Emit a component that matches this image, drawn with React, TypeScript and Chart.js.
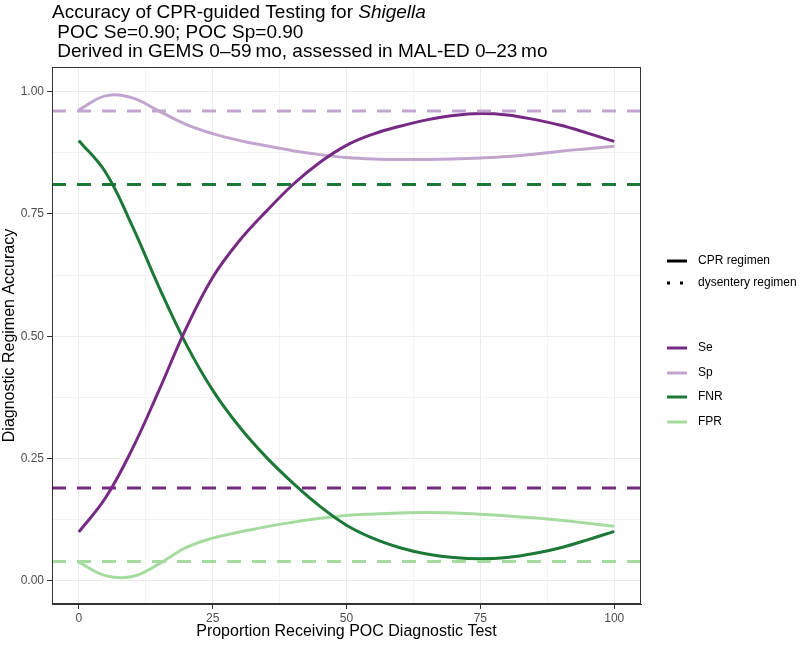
import React, { useEffect, useRef } from "react";
import { Chart, registerables } from "chart.js";

Chart.register(...registerables);

const xs = [0, 5, 10, 15, 20, 25, 30, 35, 40, 45, 50, 55, 60, 65, 70, 75, 80, 85, 90, 95, 100];
const seCPR = [0.10, 0.17, 0.27, 0.39, 0.515, 0.62, 0.695, 0.755, 0.81, 0.855, 0.89, 0.913, 0.929, 0.942, 0.951, 0.955, 0.952, 0.943, 0.931, 0.915, 0.898];
const spCPR = [0.962, 0.991, 0.987, 0.96, 0.933, 0.914, 0.9, 0.889, 0.879, 0.871, 0.865, 0.862, 0.861, 0.861, 0.862, 0.864, 0.867, 0.872, 0.878, 0.883, 0.888];
const fnrCPR = [0.90, 0.835, 0.725, 0.60, 0.485, 0.39, 0.315, 0.253, 0.2, 0.153, 0.114, 0.087, 0.068, 0.055, 0.048, 0.0455, 0.048, 0.056, 0.068, 0.084, 0.1015];
const fprCPR = [0.0385, 0.011, 0.009, 0.035, 0.068, 0.0875, 0.1, 0.111, 0.12, 0.128, 0.134, 0.137, 0.139, 0.14, 0.139, 0.1365, 0.133, 0.129, 0.124, 0.118, 0.112];

// dysentery regimen (constant)
const dysSe = 0.19;
const dysSp = 0.96;
const dysFNR = 0.81;
const dysFPR = 0.04;

const seriesNames = ["Se", "Sp", "FNR", "FPR"];
const seriesColors = ["#762a83", "#c2a5cf", "#1b7837", "#a6dba0"];

const xTicks = [0, 12.5, 25, 37.5, 50, 62.5, 75, 87.5, 100];
const yTicks = [0, 0.125, 0.25, 0.375, 0.5, 0.625, 0.75, 0.875, 1];

const FONT = '"Liberation Sans", Arial, Helvetica, sans-serif';

const toPts = (arr: number[]) => arr.map((y, i) => ({ x: xs[i], y }));
const hline = (v: number) => [{ x: -5, y: v }, { x: 105, y: v }];

export default function App() {
  const ref = useRef<HTMLCanvasElement | null>(null);

  useEffect(() => {
    if (!ref.current) return;
    const curves = [seCPR, spCPR, fnrCPR, fprCPR];
    const dys = [dysSe, dysSp, dysFNR, dysFPR];

    const datasets: any[] = [];
    dys.forEach((v, i) => {
      datasets.push({
        label: seriesNames[i] + " dysentery",
        data: hline(v),
        borderColor: seriesColors[i],
        borderWidth: 3,
        borderDash: [14, 11],
        pointRadius: 0,
        fill: false,
      });
    });
    curves.forEach((c, i) => {
      datasets.push({
        label: seriesNames[i] + " CPR",
        data: toPts(c),
        borderColor: seriesColors[i],
        borderWidth: 3,
        pointRadius: 0,
        tension: 0.4,
        fill: false,
      });
    });

    const overlay = {
      id: "overlay",
      beforeDraw(chart: any) {
        const c = chart.ctx;
        c.save();
        c.fillStyle = "#ffffff";
        c.fillRect(0, 0, chart.width, chart.height);
        c.restore();
      },
      afterDraw(chart: any) {
        const c = chart.ctx;
        const a = chart.chartArea;
        c.save();
        // panel border
        c.strokeStyle = "#333333";
        c.lineWidth = 1;
        c.strokeRect(a.left + 0.5, a.top + 0.5, a.right - a.left - 1, a.bottom - a.top - 1);

        // titles
        c.fillStyle = "#000000";
        c.textBaseline = "alphabetic";
        c.textAlign = "left";
        c.font = `19px ${FONT}`;
        const t1 = "Accuracy of CPR-guided Testing for ";
        c.fillText(t1, 52, 18);
        const w1 = c.measureText(t1).width;
        c.font = `italic 19px ${FONT}`;
        c.fillText("Shigella", 52 + w1, 18);
        c.font = `19px ${FONT}`;
        c.fillText(" POC Se=0.90; POC Sp=0.90", 52, 37.5);
        c.fillText(" Derived in GEMS 0\u201359\u2009mo, assessed in MAL-ED 0\u201323\u2009mo", 52, 57);

        // axis titles
        c.font = `16px ${FONT}`;
        c.textAlign = "center";
        c.textBaseline = "middle";
        c.fillText("Proportion Receiving POC Diagnostic Test", (a.left + a.right) / 2, 632);
        c.save();
        c.translate(10, (a.top + a.bottom) / 2);
        c.rotate(-Math.PI / 2);
        c.fillText("Diagnostic Regimen Accuracy", 0, 0);
        c.restore();

        // legend: linetype
        c.textAlign = "left";
        c.textBaseline = "middle";
        c.font = `12px ${FONT}`;
        c.lineWidth = 3;
        c.strokeStyle = "#000000";
        c.beginPath();
        c.moveTo(667, 261);
        c.lineTo(687, 261);
        c.stroke();
        c.fillText("CPR regimen", 698, 261);
        c.setLineDash([3, 10]);
        c.beginPath();
        c.moveTo(667, 283);
        c.lineTo(687, 283);
        c.stroke();
        c.setLineDash([]);
        c.fillText("dysentery regimen", 698, 283);

        // legend: colour
        const ly = [348, 373, 397, 422];
        seriesNames.forEach((n, i) => {
          c.strokeStyle = seriesColors[i];
          c.lineWidth = 3;
          c.beginPath();
          c.moveTo(667, ly[i]);
          c.lineTo(687, ly[i]);
          c.stroke();
          c.fillStyle = "#000000";
          c.fillText(n, 698, ly[i]);
        });
        c.restore();
      },
    };

    const isMajorX = (v: number) => Math.abs(v % 25) < 1e-9;
    const isMajorY = (v: number) => Math.abs(v * 4 - Math.round(v * 4)) < 1e-9;

    const chart = new Chart(ref.current, {
      type: "line",
      data: { datasets },
      options: {
        animation: false,
        responsive: false,
        maintainAspectRatio: false,
        layout: { padding: { top: 67, right: 159, left: 0, bottom: 0 } },
        plugins: {
          legend: { display: false },
          title: { display: false },
          tooltip: { enabled: false },
        },
        scales: {
          x: {
            type: "linear",
            min: -5,
            max: 105,
            afterFit: (s: any) => {
              s.height = 41;
            },
            afterBuildTicks: (s: any) => {
              s.ticks = xTicks.map((v) => ({ value: v }));
            },
            ticks: {
              autoSkip: false,
              maxRotation: 0,
              padding: 2,
              color: "#4d4d4d",
              font: { family: FONT, size: 12 },
              callback: (v: any) => (isMajorX(Number(v)) ? String(v) : ""),
            },
            grid: {
              color: (ctx: any) => (ctx.tick && isMajorX(ctx.tick.value) ? "#ebebeb" : "#f3f3f3"),
              lineWidth: 1,
              tickLength: 5,
              tickColor: (ctx: any) => (ctx.tick && isMajorX(ctx.tick.value) ? "#333333" : "rgba(0,0,0,0)"),
            },
            border: { display: true, color: "#333333", width: 1 },
          },
          y: {
            type: "linear",
            min: -0.047,
            max: 1.05,
            afterFit: (s: any) => {
              s.width = 52;
            },
            afterBuildTicks: (s: any) => {
              s.ticks = yTicks.map((v) => ({ value: v }));
            },
            ticks: {
              autoSkip: false,
              padding: 3,
              color: "#4d4d4d",
              font: { family: FONT, size: 12 },
              callback: (v: any) => (isMajorY(Number(v)) ? Number(v).toFixed(2) : ""),
            },
            grid: {
              color: (ctx: any) => (ctx.tick && isMajorY(ctx.tick.value) ? "#ebebeb" : "#f3f3f3"),
              lineWidth: 1,
              tickLength: 5,
              tickColor: (ctx: any) => (ctx.tick && isMajorY(ctx.tick.value) ? "#333333" : "rgba(0,0,0,0)"),
            },
            border: { display: true, color: "#333333", width: 1 },
          },
        },
      },
      plugins: [overlay],
    } as any);

    return () => chart.destroy();
  }, []);

  return (
    <div style={{ position: "fixed", left: 0, top: 0, width: 800, height: 645, background: "#fff" }}>
      <canvas ref={ref} width={800} height={645} style={{ width: 800, height: 645, display: "block" }} />
    </div>
  );
}
